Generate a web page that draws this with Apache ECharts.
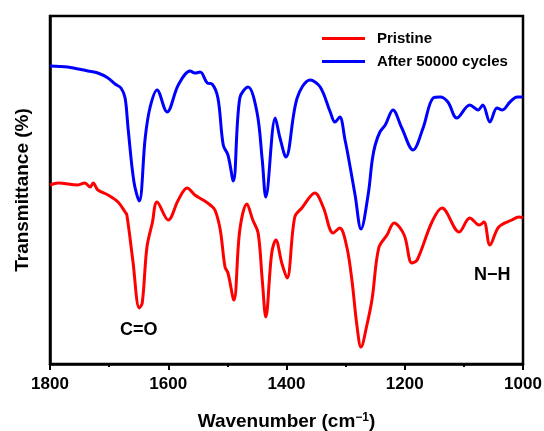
<!DOCTYPE html>
<html>
<head>
<meta charset="utf-8">
<script src="https://cdn.jsdelivr.net/npm/echarts@6/dist/echarts.min.js"></script>
<style>
html,body{margin:0;padding:0;background:#fff;}
#chart{width:544px;height:431px;}
</style>
</head>
<body>
<div id="chart"></div>
<script>
// Wavenumber (cm-1) and relative transmittance (arbitrary units)
const blueWn = [1800,1770,1736,1719,1702,1690,1680,1673,1668,1658,1649,1639,1631,1619,1602,1583,1563,1555,1546,1534,1526,1516,1507,1499,1490,1479,1465,1450,1441,1435,1419,1411,1401,1382,1360,1343,1326,1318,1310,1301,1296,1284,1274,1262,1255,1250,1242,1233,1220,1205,1186,1169,1152,1140,1127,1112,1090,1076,1068,1056,1044,1035,1022,1010,1000];
const blueT  = [334,333,329,327,322,316,312,302,272,218,199,262,292,310,288,315,329,327,328,317,316,302,255,245,219,302,313,288,240,203,282,262,243,302,320,313,288,278,283,260,245,205,171,205,240,255,268,275,290,272,250,272,302,303,298,282,295,290,295,278,292,290,298,303,303];

const redWn = [1800,1786,1753,1741,1732,1727,1719,1702,1685,1673,1670,1660,1649,1644,1636,1627,1619,1600,1583,1568,1555,1541,1529,1521,1512,1504,1499,1489,1479,1467,1457,1448,1441,1435,1425,1418,1408,1399,1386,1374,1352,1338,1321,1310,1298,1289,1281,1274,1264,1255,1244,1230,1218,1201,1188,1179,1154,1137,1108,1090,1074,1066,1056,1041,1019,1007,1000];
const redT  = [215,217,215,217,213,217,210,205,198,188,185,140,92,97,153,177,198,180,200,212,205,200,195,190,170,133,127,100,170,196,180,167,120,83,147,160,137,122,183,192,207,193,167,172,153,118,75,53,75,102,152,165,177,165,137,140,178,192,168,182,175,178,155,173,180,183,182];

const seriesNames = ['Pristine', 'After 50000 cycles'];
const xTicks = [1800, 1600, 1400, 1200, 1000];

const toPairs = (xs, ys) => xs.map((x, i) => [x, ys[i]]);

const chart = echarts.init(document.getElementById('chart'), null, {renderer: 'canvas'});
const font = 'Arial, "Liberation Sans", sans-serif';
chart.setOption({
  animation: false,
  backgroundColor: '#fff',
  grid: {left: 50, right: 21, top: 16, bottom: 67, show: true, borderColor: '#000', borderWidth: 2.5,
    backgroundColor: 'transparent', containLabel: false, outerBoundsMode: 'none'},
  legend: {
    orient: 'vertical', left: 317, top: 26,
    icon: 'rect', itemWidth: 43, itemHeight: 3, itemGap: 8,
    textStyle: {fontFamily: font, fontSize: 15, fontWeight: 'bold', color: '#000', padding: [0,0,0,7]},
    data: seriesNames
  },
  xAxis: {
    type: 'value', min: 1000, max: 1800, interval: 200, inverse: true,
    axisLine: {show: true, lineStyle: {color: '#000', width: 2.5}},
    axisTick: {show: true, length: 6, inside: false, lineStyle: {color: '#000', width: 2}},
    minorTick: {show: true, splitNumber: 2, length: 3, lineStyle: {color: '#000', width: 2}},
    splitLine: {show: false},
    axisLabel: {fontFamily: font, fontSize: 17, fontWeight: 'bold', color: '#000', margin: 12,
      formatter: v => xTicks.includes(v) ? String(v) : ''},
    name: 'Wavenumber (cm{sup|−1})', nameLocation: 'middle', nameGap: 48,
    nameTextStyle: {fontFamily: font, fontSize: 19, fontWeight: 'bold', color: '#000',
      rich: {sup: {fontFamily: font, fontSize: 12, fontWeight: 'bold', color: '#000', verticalAlign: 'top', padding: [0,0,8,0]}}}
  },
  yAxis: {
    type: 'value', min: 36, max: 384,
    axisLine: {show: true, lineStyle: {color: '#000', width: 2.5}},
    axisTick: {show: false}, axisLabel: {show: false}, splitLine: {show: false},
    name: 'Transmittance (%)', nameLocation: 'middle', nameGap: 18,
    nameTextStyle: {fontFamily: font, fontSize: 19, fontWeight: 'bold', color: '#000'}
  },
  series: [
    {name: seriesNames[0], type: 'line', data: toPairs(redWn, redT), showSymbol: false, smooth: 0.35,
      lineStyle: {color: '#ff0000', width: 3}, itemStyle: {color: '#ff0000'}},
    {name: seriesNames[1], type: 'line', data: toPairs(blueWn, blueT), showSymbol: false, smooth: 0.35,
      lineStyle: {color: '#0000ff', width: 3}, itemStyle: {color: '#0000ff'}}
  ],
  graphic: [
    {type: 'text', left: 120, top: 321, style: {text: 'C=O', fontFamily: font, fontSize: 18, fontWeight: 'bold', fill: '#000'}},
    {type: 'text', left: 474, top: 266, style: {text: 'N−H', fontFamily: font, fontSize: 18, fontWeight: 'bold', fill: '#000'}}
  ]
});
</script>
</body>
</html>
